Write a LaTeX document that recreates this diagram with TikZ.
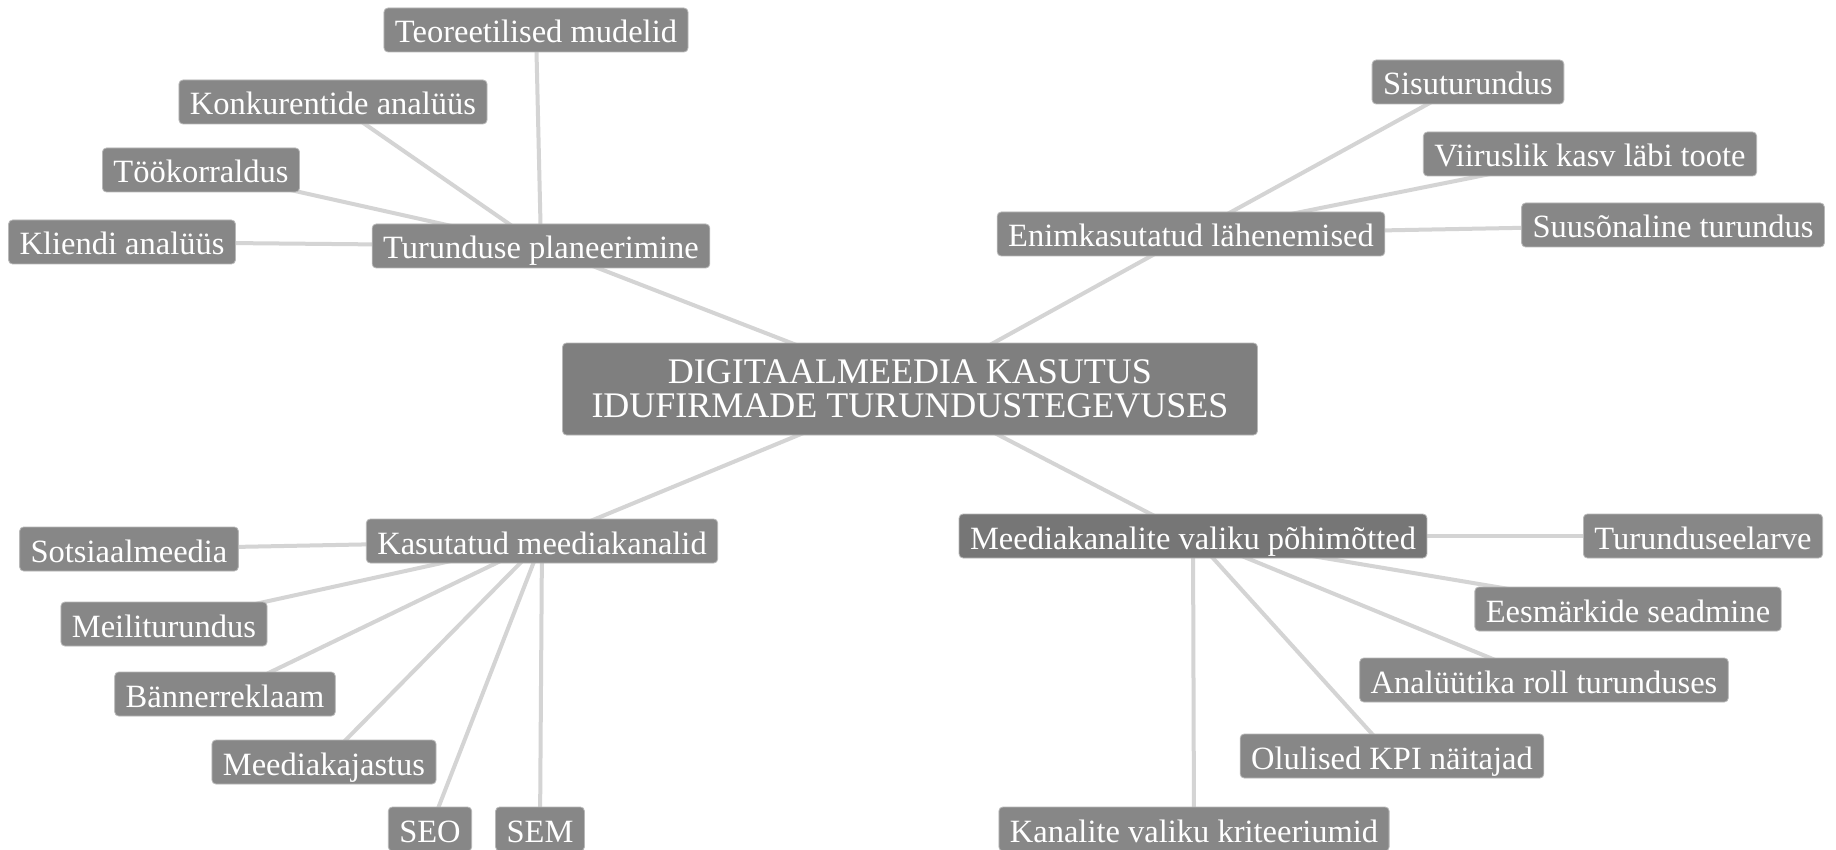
\documentclass[tikz,border=0pt]{standalone}
\usepackage{fontspec}
\setmainfont{Liberation Serif}
\usetikzlibrary{backgrounds}
\definecolor{boxgray}{HTML}{878787}
\definecolor{boxdark}{HTML}{767676}
\definecolor{centergray}{HTML}{7F7F7F}
\definecolor{linkgray}{HTML}{D4D4D4}
\definecolor{boxedge}{HTML}{B8B8B8}
\tikzset{
  leaf/.style={fill=boxgray, draw=boxedge, line width=0.8pt, rounded corners=4pt,
    text=white, inner xsep=11pt, inner ysep=0pt, minimum height=44pt,
    text height=28pt, text depth=2pt, font=\fontsize{32.5}{36}\selectfont},
  hub/.style={leaf},
  hubdark/.style={leaf, fill=boxdark},
  root/.style={fill=centergray, draw=boxedge, line width=0.8pt, rounded corners=4pt,
    text=white, inner xsep=29pt, inner ysep=0pt, minimum height=92pt, align=center,
    font=\fontsize{36}{34}\selectfont},
  link/.style={draw=linkgray, line width=4pt}
}
\begin{document}
\begin{tikzpicture}[x=1pt,y=-1pt]
\useasboundingbox (0,0) rectangle (1836,850);
% root
\node[root] (c) at (910,389) {DIGITAALMEEDIA KASUTUS\\IDUFIRMADE TURUNDUSTEGEVUSES};
% branch 1
\node[hub] (tp) at (541,246) {Turunduse planeerimine};
\node[leaf] (tm) at (536,30) {Teoreetilised mudelid};
\node[leaf] (ka) at (333,102) {Konkurentide analüüs};
\node[leaf] (tk) at (201,170) {Töökorraldus};
\node[leaf] (kl) at (122,242) {Kliendi analüüs};
% branch 2
\node[hub] (el) at (1191,234) {Enimkasutatud lähenemised};
\node[leaf] (st) at (1468,82) {Sisuturundus};
\node[leaf] (vk) at (1590,154) {Viiruslik kasv läbi toote};
\node[leaf] (ss) at (1673,225) {Suusõnaline turundus};
% branch 3
\node[hub] (km) at (542,541) {Kasutatud meediakanalid};
\node[leaf] (so) at (129,549) {Sotsiaalmeedia};
\node[leaf] (mt) at (164,624) {Meiliturundus};
\node[leaf] (br) at (225,694) {Bännerreklaam};
\node[leaf] (mk) at (324,762) {Meediakajastus};
\node[leaf] (seo) at (430,829) {SEO};
\node[leaf] (sem) at (540,829) {SEM};
% branch 4
\node[hubdark] (mv) at (1193,536) {Meediakanalite valiku põhimõtted};
\node[leaf] (te) at (1703,536) {Turunduseelarve};
\node[leaf] (es) at (1628,609) {Eesmärkide seadmine};
\node[leaf] (ar) at (1544,680) {Analüütika roll turunduses};
\node[leaf] (kpi) at (1392,756) {Olulised KPI näitajad};
\node[leaf] (kv) at (1194,829) {Kanalite valiku kriteeriumid};
\begin{pgfonlayer}{background}
\fill[white] (0,0) rectangle (1836,850);
\foreach \a/\b in {c/tp,c/el,c/km,c/mv,
  tp/tm,tp/ka,tp/tk,tp/kl,
  el/st,el/vk,el/ss,
  km/so,km/mt,km/br,km/mk,km/seo,km/sem,
  mv/te,mv/es,mv/ar,mv/kpi,mv/kv}
  \draw[link] (\a.center) -- (\b.center);
\end{pgfonlayer}
\end{tikzpicture}
\end{document}
